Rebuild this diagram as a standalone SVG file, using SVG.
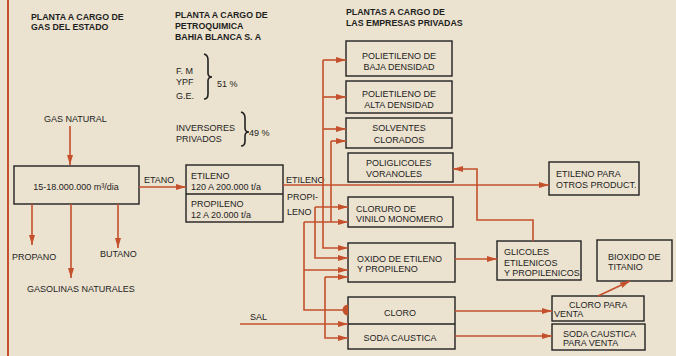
<svg xmlns="http://www.w3.org/2000/svg" width="676" height="356" viewBox="0 0 676 356">
<defs>
<marker id="ar" viewBox="0 0 10 6" refX="10" refY="3" markerWidth="10" markerHeight="6" markerUnits="userSpaceOnUse" orient="auto"><path d="M0,0 L10,3 L0,6 z" fill="#c4502c"/></marker>
<style>
.bx{fill:none;stroke:#222;stroke-width:1.4}
.c{fill:none;stroke:#c4502c;stroke-width:1.6}
.ca{fill:none;stroke:#c4502c;stroke-width:1.6;marker-end:url(#ar)}
.br{fill:none;stroke:#222;stroke-width:1.6}
text{font-family:"Liberation Sans",Arial,sans-serif;font-size:9px;fill:#1e1e1e}
.h{font-weight:bold;font-size:8.8px}
.m{text-anchor:middle}
</style>
</defs>
<rect width="676" height="356" fill="#ebe2cf"/>
<line x1="8" y1="0" x2="8" y2="356" stroke="#c4502c" stroke-width="2"/>

<g id="headers">
<text class="h" x="31" y="20">PLANTA A CARGO DE</text>
<text class="h" x="31" y="30">GAS DEL ESTADO</text>
<text class="h" x="175" y="18">PLANTA A CARGO DE</text>
<text class="h" x="175" y="29">PETROQUIMICA</text>
<text class="h" x="175" y="40">BAHIA BLANCA S. A</text>
<text class="h" x="346" y="15">PLANTAS A CARGO DE</text>
<text class="h" x="346" y="26">LAS EMPRESAS PRIVADAS</text>
</g>

<g id="shareholders">
<text x="176" y="74">F. M</text>
<text x="176" y="85">YPF</text>
<text x="176" y="99">G.E.</text>
<path class="br" d="M204,54 Q208,55 208,60 L208,73 Q208,77 212,77 Q208,77 208,81 L208,94 Q208,99 204,99"/>
<text x="217" y="87">51 %</text>
<text x="176" y="131">INVERSORES</text>
<text x="176" y="142">PRIVADOS</text>
<path class="br" d="M241,112 Q245,113 245,118 L245,128 Q245,132 249,132 Q245,132 245,136 L245,141 Q245,146 241,146"/>
<text x="249" y="136">49 %</text>
</g>

<g id="labels">
<text x="44" y="122">GAS NATURAL</text>
<text x="12" y="260">PROPANO</text>
<text x="100" y="257">BUTANO</text>
<text x="27" y="292">GASOLINAS NATURALES</text>
<text x="144" y="183">ETANO</text>
<text x="286" y="183">ETILENO</text>
<text x="287" y="200">PROPI-</text>
<text x="287" y="215">LENO</text>
<text x="250" y="320">SAL</text>
</g>

<g id="gas">
<rect class="bx" x="14" y="166" width="125" height="38"/>
<text class="m" x="76" y="189.5" font-size="9.5">15-18.000.000 m³/dia</text>
</g>

<g id="petroquimica">
<rect class="bx" x="186" y="165" width="97" height="57"/>
<line class="bx" x1="186" y1="194" x2="283" y2="194"/>
<text x="191" y="179">ETILENO</text>
<text x="191" y="190" font-size="9.8">120 A 200.000 t/a</text>
<text x="191" y="207">PROPILENO</text>
<text x="191" y="218" font-size="9.8">12 A 20.000 t/a</text>
</g>

<g id="pebd">
<rect class="bx" x="346" y="41" width="106" height="35"/>
<text class="m" x="399" y="59">POLIETILENO DE</text>
<text class="m" x="399" y="70">BAJA DENSIDAD</text>
</g>
<g id="pead">
<rect class="bx" x="346" y="81" width="106" height="32"/>
<text class="m" x="399" y="97">POLIETILENO DE</text>
<text class="m" x="399" y="108">ALTA DENSIDAD</text>
</g>
<g id="solventes">
<rect class="bx" x="346" y="118" width="106" height="30"/>
<text class="m" x="399" y="131">SOLVENTES</text>
<text class="m" x="399" y="143">CLORADOS</text>
</g>
<g id="poliglicoles">
<rect class="bx" x="348" y="153" width="105" height="29"/>
<text x="366" y="166">POLIGLICOLES</text>
<text x="366" y="176.5">VORANOLES</text>
</g>
<g id="cloruro">
<rect class="bx" x="348" y="197" width="105" height="30"/>
<text x="356" y="211.5">CLORURO DE</text>
<text x="356" y="221.5">VINILO MONOMERO</text>
</g>
<g id="oxido">
<rect class="bx" x="348" y="243" width="107" height="39"/>
<text x="357" y="261.5">OXIDO DE ETILENO</text>
<text x="357" y="271.5">Y PROPILENO</text>
</g>
<g id="cloro-soda">
<rect class="bx" x="348" y="297" width="107" height="52"/>
<line class="bx" x1="348" y1="324" x2="455" y2="324"/>
<text class="m" x="400" y="316">CLORO</text>
<text class="m" x="400" y="341">SODA CAUSTICA</text>
</g>
<g id="etileno-otros">
<rect class="bx" x="549" y="162" width="90" height="33"/>
<text x="556" y="177">ETILENO PARA</text>
<text x="556" y="187.5">OTROS PRODUCT.</text>
</g>
<g id="glicoles">
<rect class="bx" x="497" y="241" width="84" height="39"/>
<text x="504" y="255">GLICOLES</text>
<text x="504" y="265.5">ETILENICOS</text>
<text x="504" y="276">Y PROPILENICOS.</text>
</g>
<g id="bioxido">
<rect class="bx" x="597" y="240" width="75" height="41"/>
<text x="608" y="259.5">BIOXIDO DE</text>
<text x="608" y="269.5">TITANIO</text>
</g>
<g id="cloro-venta">
<rect class="bx" x="552" y="296" width="92" height="25"/>
<text x="569" y="307.5">CLORO PARA</text>
<text x="554" y="317">VENTA</text>
</g>
<g id="soda-venta">
<rect class="bx" x="552" y="324" width="93" height="26"/>
<text x="563" y="336.5">SODA CAUSTICA</text>
<text x="563" y="346">PARA VENTA</text>
</g>

<g id="connectors">
<path class="ca" d="M70,126 V165"/>
<path class="ca" d="M32,204 V245"/>
<path class="ca" d="M71,204 V278"/>
<path class="ca" d="M118,204 V248"/>
<path class="ca" d="M139,187 H186"/>
<path class="ca" d="M283,185 H549"/>
<path class="ca" d="M323,60 V248 H348"/>
<path class="ca" d="M323,60 H346"/>
<path class="ca" d="M323,97 H346"/>
<path class="ca" d="M323,129 H346"/>
<path class="ca" d="M331,141 H346"/>
<path class="c" d="M331,141 V222"/>
<path class="ca" d="M315,207 H348"/>
<path class="ca" d="M315,207 V258 H348"/>
<path class="ca" d="M304,222 H348"/>
<path class="c" d="M304,222 V310 H344"/>
<path d="M348,304.5 A5.5,5.5 0 0 0 348,315.5 Z" fill="#c4502c"/>
<path class="ca" d="M304,270 H348"/>
<path class="ca" d="M325,277 H348"/>
<path class="ca" d="M325,277 V338 H348"/>
<path class="ca" d="M240,324 H348"/>
<path class="ca" d="M455,259 H497"/>
<path class="ca" d="M533,241 V220 H477 V169 H453"/>
<path class="ca" d="M455,311 H552"/>
<path class="ca" d="M455,336 H552"/>
<path class="ca" d="M598,296 L630,281"/>
</g>
</svg>
